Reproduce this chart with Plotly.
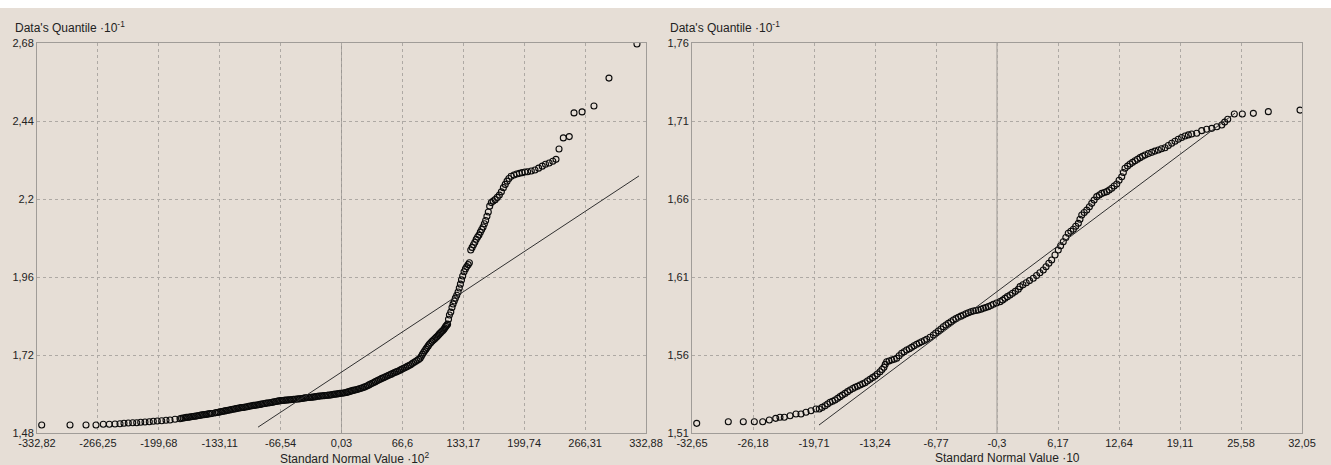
import plotly.graph_objects as go

# ---------------- data ----------------
left_xticks = [-332.82, -266.25, -199.68, -133.11, -66.54, 0.03, 66.6, 133.17, 199.74, 266.31, 332.88]
left_xlabels = ["-332,82", "-266,25", "-199,68", "-133,11", "-66,54", "0,03", "66,6", "133,17", "199,74", "266,31", "332,88"]
left_yticks = [1.48, 1.72, 1.96, 2.2, 2.44, 2.68]
left_ylabels = ["1,48", "1,72", "1,96", "2,2", "2,44", "2,68"]

right_xticks = [-32.65, -26.18, -19.71, -13.24, -6.77, -0.3, 6.17, 12.64, 19.11, 25.58, 32.05]
right_xlabels = ["-32,65", "-26,18", "-19,71", "-13,24", "-6,77", "-0,3", "6,17", "12,64", "19,11", "25,58", "32,05"]
right_yticks = [1.51, 1.56, 1.61, 1.66, 1.71, 1.76]
right_ylabels = ["1,51", "1,56", "1,61", "1,66", "1,71", "1,76"]

left_x = [
    -327.68, -296.75, -279.26, -268.33, -260.35, -253.79, -247.56, -242.09, -237.72, -233.02,
    -228.21, -223.84, -219.47, -214.77, -210.06, -205.69, -201.32, -196.51, -191.81, -187.44,
    -181.97, -176.51,
    -174.8, -173, -171.2, -169.5, -167.8, -166, -164.3, -162.5, -160.8, -159, -157.3, -155.5,
    -153.8, -152, -150.3, -148.5, -146.8, -145, -143.3, -141.5,
    -138, -136.3, -134.5, -132.8, -131, -129.3, -127.5, -125.8, -124, -122.3, -120.5, -118.8,
    -117, -115.3, -113.5, -111.8, -110, -108.3, -106.5, -104.8, -103,
    -101.3, -99.5, -97.8, -96, -94.3, -92.5, -90.8, -89, -87.3, -85.5, -83.8, -82, -80.3,
    -78.5, -76.8, -75, -73.3, -71.5, -69.8, -68,
    -66.3, -64.5, -62.8, -61, -59.3, -57.5, -55.8, -54, -52.3, -50.5, -48.8, -47, -45.3, -43.5,
    -41.8, -40, -38.3, -36.5, -34.8, -33, -31.3, -29.5, -27.8, -26, -24.3, -22.5, -20.8, -19,
    -17.3, -15.5, -13.8, -12,
    -10.3, -8.5, -6.8, -5, -3.3, -1.5, 0.3, 2, 3.8, 5.5,
    7.3, 9, 10.8, 12.5, 14.3, 16, 17.8, 19.5, 21.3, 23,
    24.8, 26.5, 28.3, 30, 31.8, 33.5, 35.3, 37, 38.8, 40.5,
    42.3, 44, 45.8, 47.5, 49.3, 51, 52.8, 54.5, 56.3, 58, 59.8, 61.5,
    63.3, 65, 66.8, 68.5, 70.3, 72, 73.8, 75.5, 77.3, 79, 80.8, 82.5, 84.3, 86, 87.3, 88.5,
    89.8, 91, 92.3, 93.5, 94.8, 96, 97.5, 99, 100.5, 102, 103.3, 104.5, 105.8, 107, 108.3,
    109.5, 110.8, 112, 113, 114, 115, 116, 117, 118, 119.5,
    120.8, 122, 123.3, 124.5, 126, 127.5, 128.8, 130, 131.2, 132.5, 134, 135.5, 137, 138.5, 139.8,
    141.3, 142.8, 144.3, 145.8, 147.3, 148.8, 150.3, 151.8, 153.3, 154.8, 156.2, 157.6, 159, 160.5,
    162, 163.8, 165.8, 168, 170.3, 172.6, 174.8, 177, 179, 181, 183, 185.5, 188.5, 191.5, 194.5,
    197.5, 200.5, 203.5,
    207.5, 211.5, 215.5, 219.5, 223, 227, 231, 234.5, 237.8, 242.5, 249, 254.2, 263, 276, 292.4, 323,
]
left_y = [
    1.5046, 1.5046, 1.5046, 1.5046, 1.5068, 1.5068, 1.5077, 1.5086, 1.5098, 1.5108,
    1.5117, 1.5117, 1.5129, 1.5138, 1.5148, 1.5160, 1.5169, 1.5178, 1.5191, 1.5200,
    1.5222, 1.5240,
    1.5255, 1.526, 1.527, 1.528, 1.5285, 1.529, 1.530, 1.531, 1.5315, 1.532, 1.533, 1.534,
    1.535, 1.536, 1.5365, 1.537, 1.538, 1.539, 1.5395, 1.540,
    1.542, 1.543, 1.544, 1.545, 1.546, 1.547, 1.548, 1.549, 1.550, 1.551, 1.552, 1.553,
    1.554, 1.555, 1.556, 1.557, 1.558, 1.5585, 1.559, 1.560, 1.561,
    1.562, 1.563, 1.564, 1.565, 1.5655, 1.566, 1.567, 1.568, 1.569, 1.570, 1.571, 1.572, 1.5725,
    1.573, 1.574, 1.575, 1.576, 1.577, 1.578, 1.579,
    1.5795, 1.580, 1.5805, 1.581, 1.5815, 1.582, 1.5825, 1.583, 1.5835, 1.584, 1.5845, 1.585, 1.5855, 1.586,
    1.587, 1.588, 1.5885, 1.589, 1.5895, 1.590, 1.5905, 1.591, 1.592, 1.593, 1.5935, 1.594, 1.5945, 1.595,
    1.5955, 1.596, 1.5965, 1.597,
    1.598, 1.599, 1.5995, 1.600, 1.601, 1.602, 1.6025, 1.603, 1.604, 1.605,
    1.6065, 1.608, 1.6095, 1.611, 1.612, 1.613, 1.6145, 1.616, 1.6175, 1.619,
    1.621, 1.623, 1.6255, 1.628, 1.6305, 1.633, 1.6355, 1.638, 1.6405, 1.643,
    1.6455, 1.648, 1.650, 1.652, 1.6545, 1.657, 1.659, 1.661, 1.6635, 1.666, 1.668, 1.670,
    1.6725, 1.675, 1.6775, 1.680, 1.6825, 1.685, 1.6875, 1.690, 1.6935, 1.697, 1.700, 1.703, 1.7065, 1.710, 1.716, 1.722,
    1.7275, 1.733, 1.738, 1.743, 1.748, 1.753, 1.7575, 1.762, 1.766, 1.770, 1.7735, 1.777, 1.781, 1.785, 1.7885,
    1.792, 1.7955, 1.799, 1.8035, 1.808, 1.8115, 1.815, 1.830, 1.843, 1.852,
    1.866, 1.877, 1.886, 1.895, 1.904, 1.914, 1.926, 1.938, 1.951, 1.963, 1.976, 1.985, 1.992, 1.998, 2.004,
    2.043, 2.051, 2.059, 2.067, 2.076, 2.083, 2.089, 2.098, 2.106, 2.114, 2.124, 2.134, 2.147, 2.160,
    2.178, 2.189, 2.194, 2.198, 2.205, 2.212, 2.222, 2.235, 2.245, 2.255, 2.263, 2.270, 2.274, 2.277, 2.279,
    2.281, 2.283, 2.284,
    2.286, 2.289, 2.295, 2.301, 2.307, 2.311, 2.316, 2.322, 2.354, 2.388, 2.392, 2.465, 2.468, 2.486, 2.572, 2.677,
]
left_line_x = [-91.2, 325.2]
left_line_y = [1.498, 2.271]

right_x = [
    -32.15, -28.80, -27.21, -26.04, -25.15, -24.45, -23.77, -23.32, -22.86, -22.25,
    -21.62, -21.09, -20.56, -20.03,
    -19.50, -19.15, -18.85, -18.54, -18.27, -18.01, -17.75, -17.48, -17.2, -16.95, -16.7, -16.42,
    -16.15, -15.89, -15.6, -15.36, -15.1, -14.83, -14.55, -14.30, -14.05, -13.77, -13.5, -13.24,
    -13.0, -12.71, -12.5, -12.29, -12.15, -12.00, -11.75, -11.47, -11.2, -10.94, -10.68, -10.41,
    -10.15, -9.88, -9.6, -9.35, -9.1, -8.82, -8.55, -8.29, -8.0, -7.76, -7.4, -7.05, -6.8, -6.52,
    -6.25, -5.99, -5.72, -5.46, -5.2, -4.93, -4.66, -4.40, -4.13, -3.87, -3.6, -3.34, -3.07, -2.81,
    -2.55, -2.28, -2.0, -1.75, -1.5, -1.22, -0.95, -0.69, -0.35, 0.02, 0.3, 0.55, 0.8, 1.08,
    1.35, 1.65, 1.96, 2.14, 2.45, 2.8, 3.15, 3.55, 3.9, 4.25, 4.61, 4.9, 5.2, 5.50, 5.85, 6.20,
    6.45, 6.73, 7.0, 7.26, 7.53, 7.80, 8.05, 8.33, 8.5, 8.69, 8.95, 9.22, 9.5, 9.75, 10.0, 10.28,
    10.55, 10.81, 11.08, 11.34, 11.6, 11.87, 12.13, 12.40, 12.65, 12.93, 13.1, 13.28, 13.55, 13.81,
    14.08, 14.34, 14.6, 14.87, 15.13, 15.40, 15.75, 16.11, 16.45, 16.81, 17.15, 17.52, 17.87, 18.23,
    18.58, 18.93, 19.28, 19.64, 20.0, 20.35, 20.88, 21.41, 21.94, 22.48, 23.01, 23.54, 23.85, 24.17,
    24.87, 25.72, 26.89, 28.48, 31.84,
]
right_y = [
    1.5162, 1.5172, 1.5172, 1.5172, 1.5172, 1.5183, 1.5194, 1.5201, 1.5201, 1.5211,
    1.5222, 1.5222, 1.5233, 1.5243,
    1.5254, 1.5254, 1.5264, 1.5275, 1.5286, 1.5297, 1.5304, 1.5312, 1.5322, 1.5333, 1.5343, 1.5354,
    1.5365, 1.5376, 1.5385, 1.5393, 1.5400, 1.5408, 1.5415, 1.5422, 1.5433, 1.5444, 1.5455, 1.5465,
    1.5478, 1.5493, 1.5507, 1.5521, 1.5540, 1.5557, 1.5562, 1.5568, 1.5573, 1.5579, 1.5595, 1.5611,
    1.5621, 1.5632, 1.5640, 1.5649, 1.5659, 1.5669, 1.5677, 1.5685, 1.5693, 1.5701, 1.5714, 1.5728, 1.5741, 1.5754,
    1.5767, 1.5781, 1.5792, 1.5803, 1.5813, 1.5824, 1.5833, 1.5842, 1.5849, 1.5856, 1.5864, 1.5871, 1.5877, 1.5882,
    1.5885, 1.5888, 1.5893, 1.5899, 1.5904, 1.5910, 1.5917, 1.5925, 1.5933, 1.5942, 1.5952, 1.5963, 1.5974, 1.5985,
    1.5996, 1.6008, 1.6021, 1.6038, 1.6050, 1.6063, 1.6077, 1.6092, 1.6110, 1.6127, 1.6145, 1.6166, 1.6188, 1.6209, 1.6241, 1.6273,
    1.6300, 1.6326, 1.6353, 1.6380, 1.6393, 1.6406, 1.6425, 1.6444, 1.6470, 1.6497, 1.6513, 1.6529, 1.6550, 1.6572, 1.6593, 1.6615,
    1.6626, 1.6636, 1.6642, 1.6647, 1.6658, 1.6669, 1.6683, 1.6696, 1.6720, 1.6743, 1.6770, 1.6797, 1.6811, 1.6824,
    1.6835, 1.6845, 1.6855, 1.6865, 1.6874, 1.6882, 1.6891, 1.6899, 1.6907, 1.6914, 1.6922, 1.6929, 1.6943, 1.6957,
    1.6970, 1.6983, 1.6994, 1.7004, 1.7011, 1.7017, 1.7021, 1.7038, 1.7047, 1.7053, 1.7063, 1.7074, 1.7093, 1.7111,
    1.7145, 1.7145, 1.7149, 1.7160, 1.7170,
]
right_line_x = [-19.18, 24.94]
right_line_y = [1.5151, 1.715]

# ---------------- styling ----------------
BG = "#E6DED6"
FRAME = "#A09C98"
GRID = "#AEA9A4"
FONT = "Liberation Sans, Arial, sans-serif"

fig = go.Figure()
marker = dict(symbol="circle-open", size=6, color="#0A0A0A", line=dict(width=1.1, color="#0A0A0A"))

fig.add_trace(go.Scatter(x=left_x, y=left_y, mode="markers", marker=marker, xaxis="x", yaxis="y", showlegend=False))
fig.add_trace(go.Scatter(x=left_line_x, y=left_line_y, mode="lines", line=dict(color="#303030", width=1), xaxis="x", yaxis="y", showlegend=False))
fig.add_trace(go.Scatter(x=right_x, y=right_y, mode="markers", marker=marker, xaxis="x2", yaxis="y2", showlegend=False))
fig.add_trace(go.Scatter(x=right_line_x, y=right_line_y, mode="lines", line=dict(color="#303030", width=1), xaxis="x2", yaxis="y2", showlegend=False))

W, H = 1331, 465
ml, mr, mt, mb = 37, 29, 43, 32
pw = W - ml - mr
d1 = [0, (646 - ml) / pw]
d2 = [(692 - ml) / pw, 1]

def xax(ticks, labels, dom, anchor):
    return dict(domain=dom, anchor=anchor, range=[ticks[0], ticks[-1]], tickmode="array",
                tickvals=ticks, ticktext=labels, showgrid=True, gridcolor=GRID, griddash="3px,3px",
                gridwidth=1, zeroline=False, showline=True, mirror=True, linecolor=FRAME, linewidth=1,
                ticks="", tickfont=dict(family=FONT, size=11, color="#222222"), fixedrange=True)

def yax(ticks, labels, anchor):
    return dict(domain=[0, 1], anchor=anchor, range=[ticks[0], ticks[-1]], tickmode="array",
                tickvals=ticks, ticktext=labels, showgrid=True, gridcolor=GRID, griddash="3px,3px",
                gridwidth=1, zeroline=False, showline=True, mirror=True, linecolor=FRAME, linewidth=1,
                ticks="", tickfont=dict(family=FONT, size=11, color="#222222"), fixedrange=True)

fig.update_layout(
    width=W, height=H, margin=dict(l=ml, r=mr, t=mt, b=mb),
    paper_bgcolor=BG, plot_bgcolor=BG,
    xaxis=xax(left_xticks, left_xlabels, d1, "y"),
    yaxis=yax(left_yticks, left_ylabels, "x"),
    xaxis2=xax(right_xticks, right_xlabels, d2, "y2"),
    yaxis2=yax(right_yticks, right_ylabels, "x2"),
    font=dict(family=FONT, size=12, color="#222222"),
)

shapes = [
    dict(type="line", xref="x", yref="y domain", x0=left_xticks[5], x1=left_xticks[5], y0=0, y1=1,
         line=dict(color="#9C9894", width=1), layer="below"),
    dict(type="line", xref="x2", yref="y2 domain", x0=right_xticks[5], x1=right_xticks[5], y0=0, y1=1,
         line=dict(color="#9C9894", width=1), layer="below"),
    dict(type="rect", xref="paper", yref="paper", x0=-0.1, x1=1.1, y0=(H - mb - 8) / (H - mt - mb),
         y1=1.2, fillcolor="white", line=dict(width=0), layer="below"),
]
fig.update_layout(shapes=shapes)

ann = []
for xr, yr in (("x domain", "y domain"), ("x2 domain", "y2 domain")):
    ann.append(dict(xref=xr, yref=yr, x=-0.039, y=1.041, xanchor="left", yanchor="middle",
                    text="Data's Quantile ·10<sup>-1</sup>", showarrow=False,
                    font=dict(family=FONT, size=12, color="#222222")))
ann.append(dict(xref="x domain", yref="y domain", x=0.3957, y=-0.064, xanchor="left", yanchor="middle",
                text="Standard Normal Value ·10<sup>2</sup>", showarrow=False,
                font=dict(family=FONT, size=12, color="#222222")))
ann.append(dict(xref="x2 domain", yref="y2 domain", x=0.395, y=-0.064, xanchor="left", yanchor="middle",
                text="Standard Normal Value ·10", showarrow=False,
                font=dict(family=FONT, size=12, color="#222222")))
fig.update_layout(annotations=ann)

fig.write_html("out.html", config={"displayModeBar": False},
               post_script="document.body.style.margin='0';document.body.style.overflow='hidden';")
